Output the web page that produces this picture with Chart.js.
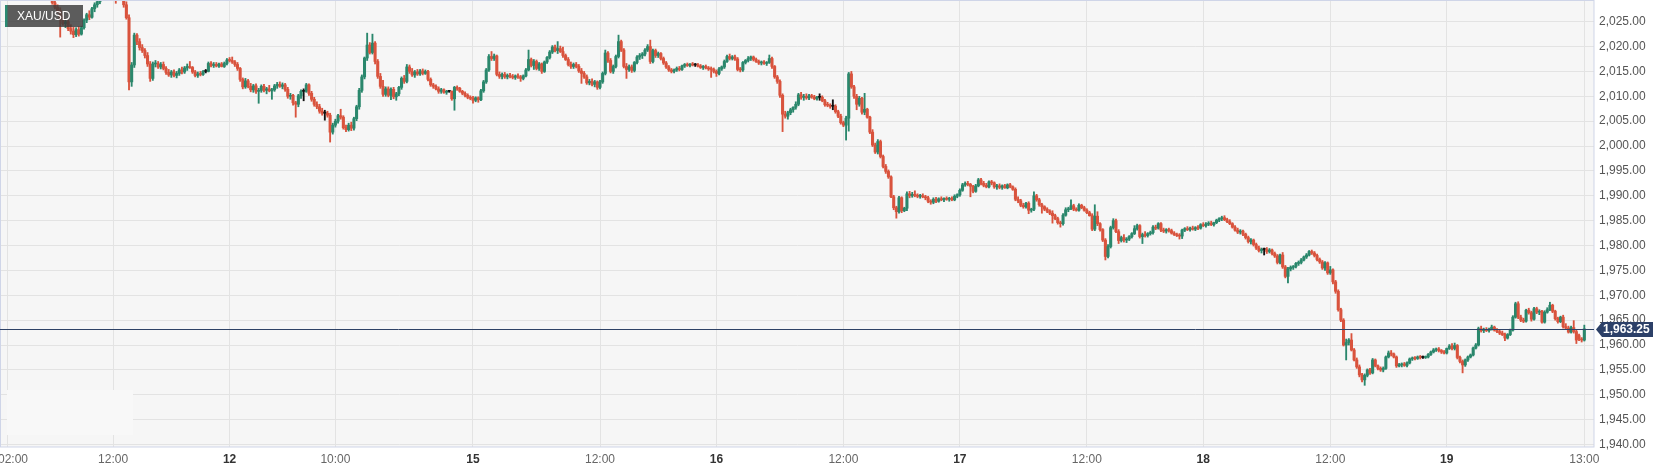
<!DOCTYPE html>
<html><head><meta charset="utf-8">
<script src="https://cdn.jsdelivr.net/npm/chart.js@4.4.1/dist/chart.umd.min.js"></script>
<style>html,body{margin:0;padding:0;background:#fff;overflow:hidden}#wrap{width:1665px;height:473px;position:relative}</style>
</head><body><div id="wrap"><canvas id="c" width="1665" height="473"></canvas></div>
<script>
// ---- data (15-minute candles; bar number counted from 02:00 on the 11th, trading time only) ----
const symbol = 'XAU/USD';
const firstIndex = 16;
const opens = [
2031.5,2030.5,2028.8,2027.9,2027.2,2025.6,2024.6,2025.0,2023.6,2023.1,
2022.4,2023.4,2022.5,2023.8,2025.3,2026.4,2025.9,2027.6,2028.4,2029.0,
2030.2,2031.2,2032.0,2031.5,2030.9,2030.3,2029.5,2030.6,2030.2,2028.4,
2025.8,2012.9,2016.3,2022.3,2021.0,2019.8,2019.2,2018.2,2016.5,2013.6,
2016.5,2016.6,2015.9,2016.4,2015.6,2014.8,2014.3,2014.9,2014.2,2014.6,
2015.3,2014.9,2015.7,2016.0,2015.8,2014.9,2014.2,2014.5,2014.4,2015.0,
2015.0,2016.6,2016.2,2016.4,2016.1,2016.5,2016.0,2016.6,2017.3,2017.2,
2016.9,2016.4,2015.6,2013.4,2011.9,2013.1,2012.0,2011.3,2012.1,2011.0,
2011.2,2012.0,2011.2,2011.5,2011.1,2011.3,2012.1,2012.4,2012.0,2012.3,
2011.4,2010.0,2010.2,2008.7,2008.4,2010.1,2011.0,2011.0,2012.3,2010.6,
2009.4,2008.4,2007.9,2007.0,2006.6,2006.6,2006.2,2002.8,2004.2,2005.0,
2006.1,2005.8,2003.7,2003.3,2004.2,2003.6,2005.5,2007.9,2011.2,2013.9,
2017.7,2020.3,2018.8,2020.7,2017.0,2014.0,2012.0,2010.4,2011.5,2010.2,
2011.4,2009.9,2010.5,2011.8,2013.6,2013.0,2015.9,2015.0,2014.3,2014.9,
2014.5,2015.1,2014.6,2015.0,2013.4,2012.3,2012.0,2011.5,2011.0,2011.3,
2010.8,2011.0,2011.0,2009.5,2011.8,2011.6,2011.0,2010.6,2010.2,2009.8,
2009.6,2009.2,2009.7,2009.3,2011.1,2012.9,2015.3,2018.0,2017.6,2018.1,
2014.4,2014.0,2014.4,2013.9,2014.2,2014.0,2013.8,2014.1,2013.9,2013.6,
2014.1,2015.3,2017.4,2016.2,2017.0,2015.6,2016.5,2015.0,2016.9,2017.8,
2018.9,2019.9,2019.2,2019.6,2019.0,2018.2,2017.4,2016.4,2016.0,2016.4,
2016.0,2015.1,2014.6,2013.9,2012.7,2013.0,2012.4,2012.9,2011.8,2012.9,
2014.6,2018.7,2017.2,2015.0,2016.0,2018.0,2021.0,2019.3,2016.0,2015.4,
2015.9,2015.2,2016.8,2017.9,2018.2,2018.5,2019.3,2020.0,2017.0,2019.2,
2018.2,2018.6,2017.6,2016.7,2015.9,2015.3,2015.0,2015.3,2015.6,2015.4,
2016.1,2016.4,2016.2,2016.5,2016.3,2016.3,2016.1,2015.8,2016.0,2015.7,
2015.5,2015.4,2015.0,2014.6,2015.5,2015.9,2017.0,2018.0,2017.6,2017.9,
2017.5,2015.4,2015.3,2016.8,2017.2,2017.6,2017.9,2017.4,2017.0,2016.7,
2016.9,2016.6,2016.8,2017.6,2016.0,2013.9,2013.0,2010.2,2006.4,2006.0,
2006.7,2007.3,2007.8,2008.4,2010.3,2009.8,2010.0,2009.7,2010.1,2009.9,
2009.5,2009.8,2009.8,2009.1,2008.3,2008.2,2008.0,2008.0,2006.9,2006.0,
2004.7,2004.2,2005.6,2014.5,2011.9,2010.0,2008.4,2009.6,2006.8,2007.4,
2005.8,2002.8,2000.2,1998.8,2000.9,1997.9,1995.9,1994.9,1993.8,1989.8,
1987.6,1986.8,1989.6,1987.0,1987.5,1990.4,1990.0,1990.3,1990.1,1989.9,
1990.0,1989.8,1989.6,1988.9,1988.7,1989.3,1988.9,1989.4,1989.2,1989.5,
1989.3,1989.5,1989.2,1989.9,1990.2,1991.1,1992.2,1992.5,1992.3,1991.9,
1990.9,1992.0,1993.2,1992.5,1992.1,1991.8,1992.8,1992.6,1991.8,1992.0,
1991.7,1992.0,1991.6,1992.2,1991.8,1991.3,1989.3,1989.0,1988.1,1987.8,
1988.5,1987.1,1987.3,1990.0,1989.2,1988.2,1987.8,1987.3,1986.9,1986.5,
1986.0,1985.4,1984.6,1984.4,1986.1,1987.2,1987.4,1988.0,1987.3,1987.1,
1988.1,1987.6,1987.1,1986.6,1986.0,1983.3,1985.9,1984.4,1983.2,1981.1,
1977.8,1979.8,1983.6,1985.0,1982.8,1981.0,1981.6,1981.1,1981.3,1981.8,
1982.4,1983.4,1984.0,1981.8,1982.2,1982.0,1982.4,1982.6,1983.7,1983.5,
1984.4,1983.1,1982.9,1983.2,1983.0,1982.5,1982.2,1982.0,1981.9,1983.1,
1983.4,1983.2,1983.5,1983.3,1983.6,1983.5,1984.2,1984.0,1984.3,1984.5,
1984.2,1984.6,1985.1,1985.4,1985.6,1985.2,1984.8,1984.4,1983.7,1983.1,
1982.7,1982.9,1982.3,1981.6,1980.8,1981.1,1980.2,1979.5,1979.0,1979.2,
1979.2,1978.8,1979.1,1978.4,1977.9,1976.6,1978.1,1975.7,1973.8,1975.3,
1975.6,1975.8,1976.4,1976.6,1977.1,1977.7,1978.1,1978.8,1978.5,1978.0,
1977.2,1976.7,1975.5,1976.5,1974.5,1975.1,1972.7,1970.8,1967.1,1965.0,
1960.0,1960.5,1961.0,1959.0,1957.0,1955.6,1954.0,1953.0,1953.9,1955.0,
1954.4,1957.0,1955.8,1955.3,1955.0,1955.3,1957.6,1958.4,1958.2,1957.6,
1955.8,1956.0,1956.2,1955.9,1956.4,1957.2,1957.4,1957.3,1957.6,1957.5,
1957.5,1957.6,1958.1,1958.6,1959.0,1959.2,1958.9,1958.6,1958.4,1959.3,
1959.8,1959.3,1959.9,1957.5,1956.7,1956.0,1957.0,1957.6,1958.0,1959.4,
1960.0,1963.3,1962.9,1963.1,1962.9,1963.2,1963.6,1963.0,1962.7,1962.4,
1962.1,1961.4,1962.1,1963.0,1965.6,1968.3,1965.6,1965.0,1964.8,1967.0,
1966.5,1965.2,1967.3,1966.6,1966.8,1964.6,1966.6,1967.1,1968.0,1966.8,
1965.3,1964.7,1965.6,1963.7,1963.4,1962.6,1963.5,1962.7,1961.9,1961.2,
1961.0];
const highs = [
2032.0,2031.0,2029.5,2028.4,2027.8,2026.2,2025.4,2025.3,2024.4,2023.9,
2023.8,2024.0,2024.1,2025.6,2026.7,2027.2,2027.9,2028.8,2029.5,2030.6,
2031.8,2032.6,2033.0,2032.4,2031.6,2030.8,2031.0,2031.5,2030.9,2029.0,
2026.4,2016.8,2022.7,2022.6,2021.6,2020.4,2019.6,2018.8,2017.0,2016.9,
2017.2,2017.0,2016.8,2016.9,2016.0,2015.4,2015.2,2015.3,2015.0,2015.6,
2015.9,2016.0,2016.5,2017.0,2016.0,2015.2,2014.9,2015.0,2015.2,2015.4,
2016.9,2017.0,2016.8,2016.8,2016.7,2016.8,2016.9,2017.6,2017.8,2017.9,
2017.2,2016.8,2015.8,2013.7,2013.6,2013.4,2012.6,2012.4,2012.5,2011.6,
2012.3,2012.4,2011.8,2012.2,2011.6,2012.4,2012.8,2012.9,2012.7,2012.6,
2011.8,2010.6,2010.4,2009.0,2010.4,2011.3,2011.5,2012.6,2012.5,2011.0,
2009.8,2008.9,2008.4,2007.6,2007.2,2007.0,2006.6,2004.6,2005.4,2006.4,
2007.4,2006.1,2004.2,2004.6,2004.8,2005.8,2008.2,2011.6,2014.3,2017.9,
2022.7,2020.8,2022.5,2021.0,2017.4,2014.6,2013.2,2011.9,2011.9,2011.7,
2011.8,2010.8,2012.0,2013.9,2014.2,2016.4,2016.3,2015.6,2015.2,2015.4,
2015.4,2015.5,2015.3,2015.2,2013.7,2012.6,2012.3,2011.9,2011.6,2011.5,
2011.2,2011.2,2011.1,2012.0,2012.1,2011.8,2011.2,2010.9,2010.5,2010.1,
2010.0,2009.9,2009.9,2011.4,2013.2,2015.6,2018.4,2019.0,2018.5,2018.3,
2014.9,2014.7,2014.8,2014.5,2014.6,2014.4,2014.3,2014.5,2014.2,2014.3,
2015.6,2019.3,2017.7,2017.4,2017.3,2016.8,2016.7,2017.1,2018.0,2019.2,
2020.2,2020.3,2021.0,2020.1,2019.9,2018.5,2017.8,2016.9,2016.7,2016.8,
2016.4,2015.6,2015.0,2014.3,2013.4,2013.5,2013.2,2013.1,2013.2,2014.9,
2019.3,2019.0,2017.6,2016.3,2018.3,2022.3,2021.3,2019.6,2016.6,2016.3,
2016.3,2017.0,2018.2,2018.6,2018.8,2019.6,2020.4,2021.3,2019.5,2019.5,
2018.9,2018.8,2017.9,2017.0,2016.2,2015.6,2015.5,2015.9,2016.0,2016.3,
2016.6,2016.7,2016.6,2016.8,2016.6,2016.6,2016.4,2016.2,2016.3,2016.0,
2015.9,2015.7,2015.3,2015.8,2016.1,2017.3,2018.3,2018.5,2018.2,2018.3,
2017.8,2015.8,2017.0,2017.4,2018.0,2018.1,2018.1,2017.7,2017.3,2017.1,
2017.2,2017.0,2018.3,2017.9,2016.2,2014.2,2013.3,2010.5,2007.0,2007.0,
2007.6,2007.9,2008.9,2010.6,2010.8,2010.4,2010.5,2010.4,2010.4,2010.2,
2010.0,2010.5,2010.1,2009.4,2008.8,2008.5,2009.3,2008.3,2007.2,2006.4,
2005.0,2006.0,2014.8,2015.0,2012.2,2010.4,2010.0,2009.8,2010.6,2007.6,
2006.0,2003.3,2000.6,2001.3,2001.2,1998.2,1996.3,1995.2,1994.0,1990.1,
1987.9,1989.9,1989.8,1987.7,1990.8,1990.9,1990.7,1991.0,1990.4,1990.3,
1990.4,1990.1,1989.9,1989.2,1989.6,1989.7,1989.6,1989.8,1989.6,1989.8,
1989.7,1989.8,1990.2,1990.4,1991.4,1992.5,1992.8,1992.9,1992.5,1992.1,
1992.3,1993.5,1993.5,1992.9,1992.5,1993.0,1993.1,1992.8,1992.3,1992.4,
1992.2,1992.3,1992.4,1992.5,1992.0,1991.6,1989.8,1989.3,1988.5,1988.7,
1988.8,1987.5,1990.8,1990.3,1989.5,1988.5,1988.0,1987.6,1987.2,1987.0,
1986.3,1985.7,1984.9,1986.4,1987.6,1987.7,1989.2,1988.3,1987.6,1988.4,
1988.3,1987.9,1987.4,1986.9,1986.4,1988.2,1986.8,1984.6,1983.4,1981.4,
1980.2,1983.9,1985.4,1985.3,1983.2,1981.9,1982.2,1981.6,1982.0,1982.6,
1984.0,1984.3,1984.2,1982.5,1982.8,1982.6,1982.9,1984.0,1984.1,1984.6,
1984.6,1983.5,1983.4,1983.5,1983.3,1982.8,1982.5,1982.4,1983.3,1983.6,
1983.8,1983.7,1983.9,1983.8,1984.0,1984.4,1984.6,1984.6,1984.8,1984.9,
1984.7,1985.3,1985.6,1985.9,1986.0,1985.5,1985.2,1984.6,1984.0,1983.5,
1983.2,1983.1,1982.5,1981.9,1981.4,1981.3,1980.5,1979.9,1979.5,1979.5,
1979.6,1979.4,1979.3,1978.7,1978.2,1978.3,1978.6,1976.0,1975.6,1975.9,
1976.0,1976.6,1976.9,1977.4,1977.9,1978.4,1979.0,1979.1,1978.8,1978.3,
1977.5,1977.0,1976.8,1976.7,1975.8,1975.3,1973.0,1971.1,1967.4,1965.3,
1961.2,1961.3,1962.3,1959.3,1957.4,1956.0,1954.3,1954.2,1955.2,1955.3,
1957.3,1957.2,1956.0,1955.6,1955.6,1957.8,1958.8,1958.9,1958.4,1957.8,
1956.3,1956.4,1956.5,1956.6,1957.4,1957.6,1957.7,1957.8,1957.9,1957.8,
1957.8,1958.3,1958.8,1959.3,1959.4,1959.5,1959.1,1958.9,1959.4,1960.1,
1960.3,1960.4,1960.1,1957.8,1957.0,1957.2,1957.8,1958.2,1959.6,1960.3,
1963.6,1963.8,1963.4,1963.5,1963.4,1964.0,1963.8,1963.3,1963.0,1962.8,
1962.4,1962.3,1963.2,1965.9,1968.6,1968.7,1966.0,1965.4,1967.2,1967.4,
1966.8,1967.6,1967.6,1967.1,1967.0,1966.9,1967.5,1968.6,1968.2,1967.0,
1965.6,1965.8,1966.0,1964.3,1963.8,1963.8,1964.9,1963.0,1962.2,1961.5,
1964.0];
const lows = [
2030.2,2028.5,2027.6,2026.8,2021.9,2024.3,2023.8,2023.2,2022.5,2021.8,
2022.0,2022.1,2022.3,2023.5,2024.8,2025.4,2025.7,2027.0,2027.9,2028.6,
2029.8,2030.6,2031.0,2030.3,2029.8,2028.7,2029.3,2029.8,2027.9,2025.5,
2011.3,2012.0,2015.8,2020.4,2019.3,2018.8,2017.7,2016.0,2013.0,2013.2,
2015.9,2015.6,2015.5,2015.3,2014.4,2014.0,2013.8,2013.9,2013.7,2014.2,
2014.5,2014.6,2015.2,2015.6,2014.6,2013.9,2013.8,2014.1,2014.2,2014.7,
2014.9,2015.9,2015.8,2015.9,2015.8,2015.9,2015.8,2016.3,2016.9,2016.6,
2016.0,2015.2,2013.0,2011.5,2011.6,2011.7,2010.9,2010.8,2010.6,2008.6,
2010.8,2010.9,2010.5,2010.9,2009.4,2011.0,2011.6,2011.8,2011.5,2011.0,
2009.6,2009.4,2008.2,2005.8,2007.9,2009.6,2009.1,2010.8,2010.2,2009.0,
2008.0,2007.5,2006.6,2006.2,2005.2,2005.8,2000.8,2002.4,2003.8,2004.6,
2005.4,2003.4,2002.9,2003.0,2003.1,2003.2,2005.1,2007.4,2010.8,2013.5,
2017.2,2018.5,2018.5,2016.5,2013.6,2011.6,2010.0,2010.0,2009.9,2009.3,
2009.5,2009.2,2010.1,2011.4,2012.6,2012.7,2014.6,2014.0,2013.8,2014.2,
2014.2,2014.3,2014.4,2013.1,2012.0,2011.6,2011.3,2010.6,2010.6,2010.6,
2010.4,2010.8,2009.2,2007.2,2011.2,2010.8,2010.3,2009.9,2009.5,2009.3,
2008.6,2008.9,2008.8,2009.1,2010.8,2012.6,2015.0,2017.2,2017.2,2014.1,
2013.6,2013.5,2013.6,2013.5,2013.7,2013.5,2013.4,2013.6,2013.0,2013.3,
2013.9,2015.1,2015.9,2015.4,2015.3,2015.2,2014.6,2014.8,2016.6,2017.5,
2018.6,2018.9,2018.6,2018.8,2017.8,2017.2,2016.1,2015.6,2015.6,2015.7,
2014.8,2012.6,2013.6,2012.4,2012.3,2012.1,2011.9,2011.4,2011.5,2012.6,
2014.3,2016.8,2014.7,2014.6,2015.7,2017.7,2019.0,2015.7,2013.6,2015.0,
2014.8,2014.9,2016.5,2017.4,2017.6,2018.1,2019.0,2016.6,2016.7,2017.8,
2017.8,2017.3,2016.4,2015.6,2015.0,2014.7,2014.7,2015.0,2015.1,2015.2,
2015.8,2016.0,2015.9,2016.1,2016.0,2015.9,2015.6,2015.4,2015.5,2015.2,
2013.8,2014.7,2014.0,2014.3,2015.2,2015.6,2016.8,2017.3,2017.3,2017.2,
2015.1,2014.9,2015.0,2016.5,2016.9,2017.2,2017.1,2016.8,2016.4,2016.3,
2016.4,2016.2,2016.6,2015.6,2013.6,2012.6,2009.8,2002.9,2005.6,2005.4,
2006.3,2006.8,2007.4,2008.1,2009.4,2009.2,2009.4,2009.3,2009.6,2009.3,
2009.2,2009.2,2008.9,2008.0,2007.9,2007.6,2007.3,2006.6,2005.7,2004.4,
2003.9,2001.2,2003.0,2011.6,2009.6,2007.3,2008.0,2006.4,2006.3,2005.6,
2002.5,1999.9,1998.5,1998.4,1997.6,1995.6,1994.5,1993.5,1989.6,1987.2,
1985.5,1986.5,1986.6,1986.8,1987.0,1989.6,1989.7,1989.8,1989.6,1989.5,
1989.6,1989.2,1988.6,1988.3,1988.4,1988.6,1988.7,1989.0,1988.8,1989.1,
1988.9,1989.0,1989.0,1989.6,1989.9,1990.9,1991.9,1992.0,1989.8,1990.6,
1990.7,1991.8,1992.2,1991.8,1991.6,1991.6,1992.2,1991.5,1991.3,1991.4,
1991.3,1991.5,1991.4,1991.6,1991.1,1989.0,1988.6,1987.8,1987.5,1987.5,
1986.4,1986.7,1987.0,1988.9,1987.9,1986.5,1987.0,1986.6,1986.2,1984.5,
1985.2,1984.3,1983.7,1984.1,1985.9,1986.8,1987.2,1987.0,1986.9,1986.9,
1987.4,1986.9,1986.4,1985.9,1983.0,1983.0,1984.0,1982.9,1980.8,1977.1,
1977.5,1979.5,1983.3,1982.6,1980.4,1980.7,1980.7,1980.6,1981.0,1981.5,
1982.2,1983.1,1981.5,1980.4,1981.7,1981.7,1982.1,1982.3,1983.2,1983.3,
1982.8,1982.6,1982.5,1982.7,1982.3,1982.0,1981.8,1981.3,1981.4,1982.8,
1983.0,1982.9,1983.1,1983.0,1983.2,1983.3,1983.8,1983.7,1984.0,1984.0,
1983.9,1984.4,1984.8,1985.0,1985.0,1984.6,1984.2,1983.5,1982.9,1982.4,
1982.3,1982.0,1981.3,1980.5,1980.3,1979.9,1979.2,1978.7,1978.5,1978.1,
1978.4,1978.5,1978.1,1977.6,1976.3,1976.3,1975.4,1973.5,1972.5,1974.9,
1975.2,1975.5,1976.0,1976.3,1976.9,1977.4,1977.9,1978.2,1977.7,1976.9,
1976.4,1975.2,1975.0,1974.2,1974.2,1972.3,1970.4,1966.8,1964.7,1959.8,
1957.0,1960.0,1958.8,1956.8,1955.3,1953.6,1952.6,1951.9,1953.6,1954.1,
1954.2,1955.6,1955.0,1954.7,1954.6,1955.1,1957.4,1957.8,1957.4,1955.5,
1955.6,1955.6,1955.7,1955.6,1956.2,1956.9,1957.0,1957.1,1957.2,1957.3,
1957.3,1957.4,1957.9,1958.4,1958.7,1958.6,1958.3,1958.2,1958.2,1959.1,
1959.0,1959.0,1957.2,1956.4,1954.4,1955.7,1956.7,1957.4,1957.8,1959.2,
1959.8,1962.6,1962.5,1962.7,1962.6,1963.0,1962.8,1962.5,1962.1,1961.9,
1960.9,1961.2,1961.9,1962.8,1965.4,1965.3,1964.7,1964.5,1964.6,1966.2,
1964.8,1965.0,1966.3,1966.1,1964.4,1964.4,1966.4,1966.9,1966.5,1965.0,
1964.4,1964.5,1963.4,1963.1,1962.4,1962.4,1962.4,1960.3,1960.9,1960.6,
1960.8];
const closes = [
2030.5,2028.8,2027.9,2027.2,2025.6,2024.6,2025.0,2023.6,2023.1,2022.4,
2023.4,2022.5,2023.8,2025.3,2026.4,2025.9,2027.6,2028.4,2029.0,2030.2,
2031.2,2032.0,2031.5,2030.9,2030.3,2029.5,2030.6,2030.2,2028.4,2025.8,
2012.9,2016.3,2022.3,2021.0,2019.8,2019.2,2018.2,2016.5,2013.6,2016.5,
2016.6,2015.9,2016.4,2015.6,2014.8,2014.3,2014.9,2014.2,2014.6,2015.3,
2014.9,2015.7,2016.0,2015.8,2014.9,2014.2,2014.5,2014.4,2015.0,2015.0,
2016.6,2016.2,2016.4,2016.1,2016.5,2016.0,2016.6,2017.3,2017.2,2016.9,
2016.4,2015.6,2013.4,2011.9,2013.1,2012.0,2011.3,2012.1,2011.0,2011.2,
2012.0,2011.2,2011.5,2011.1,2011.3,2012.1,2012.4,2012.0,2012.3,2011.4,
2010.0,2010.2,2008.7,2008.4,2010.1,2011.0,2011.0,2012.3,2010.6,2009.4,
2008.4,2007.9,2007.0,2006.6,2006.6,2006.2,2002.8,2004.2,2005.0,2006.1,
2005.8,2003.7,2003.3,2004.2,2003.6,2005.5,2007.9,2011.2,2013.9,2017.7,
2020.3,2018.8,2020.7,2017.0,2014.0,2012.0,2010.4,2011.5,2010.2,2011.4,
2009.9,2010.5,2011.8,2013.6,2013.0,2015.9,2015.0,2014.3,2014.9,2014.5,
2015.1,2014.6,2015.0,2013.4,2012.3,2012.0,2011.5,2011.0,2011.3,2010.8,
2011.0,2011.0,2009.5,2011.8,2011.6,2011.0,2010.6,2010.2,2009.8,2009.6,
2009.2,2009.7,2009.3,2011.1,2012.9,2015.3,2018.0,2017.6,2018.1,2014.4,
2014.0,2014.4,2013.9,2014.2,2014.0,2013.8,2014.1,2013.9,2013.6,2014.1,
2015.3,2017.4,2016.2,2017.0,2015.6,2016.5,2015.0,2016.9,2017.8,2018.9,
2019.9,2019.2,2019.6,2019.0,2018.2,2017.4,2016.4,2016.0,2016.4,2016.0,
2015.1,2014.6,2013.9,2012.7,2013.0,2012.4,2012.9,2011.8,2012.9,2014.6,
2018.7,2017.2,2015.0,2016.0,2018.0,2021.0,2019.3,2016.0,2015.4,2015.9,
2015.2,2016.8,2017.9,2018.2,2018.5,2019.3,2020.0,2017.0,2019.2,2018.2,
2018.6,2017.6,2016.7,2015.9,2015.3,2015.0,2015.3,2015.6,2015.4,2016.1,
2016.4,2016.2,2016.5,2016.3,2016.3,2016.1,2015.8,2016.0,2015.7,2015.5,
2015.4,2015.0,2014.6,2015.5,2015.9,2017.0,2018.0,2017.6,2017.9,2017.5,
2015.4,2015.3,2016.8,2017.2,2017.6,2017.9,2017.4,2017.0,2016.7,2016.9,
2016.6,2016.8,2017.6,2016.0,2013.9,2013.0,2010.2,2006.4,2006.0,2006.7,
2007.3,2007.8,2008.4,2010.3,2009.8,2010.0,2009.7,2010.1,2009.9,2009.5,
2009.8,2009.8,2009.1,2008.3,2008.2,2008.0,2008.0,2006.9,2006.0,2004.7,
2004.2,2005.6,2014.5,2011.9,2010.0,2008.4,2009.6,2006.8,2007.4,2005.8,
2002.8,2000.2,1998.8,2000.9,1997.9,1995.9,1994.9,1993.8,1989.8,1987.6,
1986.8,1989.6,1987.0,1987.5,1990.4,1990.0,1990.3,1990.1,1989.9,1990.0,
1989.8,1989.6,1988.9,1988.7,1989.3,1988.9,1989.4,1989.2,1989.5,1989.3,
1989.5,1989.2,1989.9,1990.2,1991.1,1992.2,1992.5,1992.3,1991.9,1990.9,
1992.0,1993.2,1992.5,1992.1,1991.8,1992.8,1992.6,1991.8,1992.0,1991.7,
1992.0,1991.6,1992.2,1991.8,1991.3,1989.3,1989.0,1988.1,1987.8,1988.5,
1987.1,1987.3,1990.0,1989.2,1988.2,1987.8,1987.3,1986.9,1986.5,1986.0,
1985.4,1984.6,1984.4,1986.1,1987.2,1987.4,1988.0,1987.3,1987.1,1988.1,
1987.6,1987.1,1986.6,1986.0,1983.3,1985.9,1984.4,1983.2,1981.1,1977.8,
1979.8,1983.6,1985.0,1982.8,1981.0,1981.6,1981.1,1981.3,1981.8,1982.4,
1983.4,1984.0,1981.8,1982.2,1982.0,1982.4,1982.6,1983.7,1983.5,1984.4,
1983.1,1982.9,1983.2,1983.0,1982.5,1982.2,1982.0,1981.9,1983.1,1983.4,
1983.2,1983.5,1983.3,1983.6,1983.5,1984.2,1984.0,1984.3,1984.5,1984.2,
1984.6,1985.1,1985.4,1985.6,1985.2,1984.8,1984.4,1983.7,1983.1,1982.7,
1982.9,1982.3,1981.6,1980.8,1981.1,1980.2,1979.5,1979.0,1979.2,1979.2,
1978.8,1979.1,1978.4,1977.9,1976.6,1978.1,1975.7,1973.8,1975.3,1975.6,
1975.8,1976.4,1976.6,1977.1,1977.7,1978.1,1978.8,1978.5,1978.0,1977.2,
1976.7,1975.5,1976.5,1974.5,1975.1,1972.7,1970.8,1967.1,1965.0,1960.0,
1960.5,1961.0,1959.0,1957.0,1955.6,1954.0,1953.0,1953.9,1955.0,1954.4,
1957.0,1955.8,1955.3,1955.0,1955.3,1957.6,1958.4,1958.2,1957.6,1955.8,
1956.0,1956.2,1955.9,1956.4,1957.2,1957.4,1957.3,1957.6,1957.5,1957.5,
1957.6,1958.1,1958.6,1959.0,1959.2,1958.9,1958.6,1958.4,1959.3,1959.8,
1959.3,1959.9,1957.5,1956.7,1956.0,1957.0,1957.6,1958.0,1959.4,1960.0,
1963.3,1962.9,1963.1,1962.9,1963.2,1963.6,1963.0,1962.7,1962.4,1962.1,
1961.4,1962.1,1963.0,1965.6,1968.3,1965.6,1965.0,1964.8,1967.0,1966.5,
1965.2,1967.3,1966.6,1966.8,1964.6,1966.6,1967.1,1968.0,1966.8,1965.3,
1964.7,1965.6,1963.7,1963.4,1962.6,1963.5,1962.7,1961.0,1961.2,1961.0,
1963.25];
const xTickIndex = [0, 40, 84, 124, 176, 224, 268, 316, 360, 408, 452, 500, 544, 596];
const xTickLabels = ['02:00','12:00','12','10:00','15','12:00','16','12:00','17','12:00','18','12:00','19','13:00'];
const xTickIsDay = [false,false,true,false,true,false,true,false,true,false,true,false,true,false];
const yTicks = [1940,1945,1950,1955,1960,1965,1970,1975,1980,1985,1990,1995,2000,2005,2010,2015,2020,2025];

if (!(opens.length === highs.length && highs.length === lows.length && lows.length === closes.length)) {
  throw new Error('array length mismatch ' + [opens.length, highs.length, lows.length, closes.length].join(','));
}

// ---- styling ----
const FONT = '"Liberation Sans", Arial, Helvetica, sans-serif';
const UP = '#2a876c', DOWN = '#d9533d', FLAT = '#111111';
const fmt = v => v.toLocaleString('en-US', {minimumFractionDigits: 2, maximumFractionDigits: 2});
const colorOf = i => closes[i] > opens[i] ? UP : (closes[i] < opens[i] ? DOWN : FLAT);
const colors = closes.map((c, i) => colorOf(i));

const wickData = lows.map((l, i) => ({x: firstIndex + i, y: [l, highs[i]]}));
const bodyData = opens.map((o, i) => ({x: firstIndex + i, y: [Math.min(o, closes[i]), Math.max(o, closes[i])]}));

const decorations = {
  id: 'decorations',
  beforeDraw(chart) {
    const {ctx, chartArea: a} = chart;
    ctx.save();
    ctx.fillStyle = '#ffffff';
    ctx.fillRect(0, 0, chart.width, chart.height);
    ctx.fillStyle = '#f6f6f6';
    ctx.fillRect(a.left, a.top, a.right - a.left, a.bottom - a.top);
    ctx.restore();
  },
  beforeDatasetsDraw(chart) {
    const {ctx} = chart;
    ctx.save();
    ctx.fillStyle = '#f8f8f8';
    ctx.fillRect(7, 390, 126, 45);
    ctx.restore();
  },
  afterDraw(chart) {
    const {ctx, chartArea: a, scales} = chart;
    ctx.save();
    ctx.strokeStyle = '#cfd5e8';
    ctx.lineWidth = 1;
    ctx.strokeRect(0.5, 0.5, a.right - 0.5, a.bottom - 0.5);
    const last = closes[closes.length - 1];
    const py = Math.round(scales.y.getPixelForValue(last)) + 0.5;
    ctx.strokeStyle = '#2e4266';
    ctx.beginPath(); ctx.moveTo(0, py); ctx.lineTo(a.right, py); ctx.stroke();
    ctx.fillStyle = '#2c4068';
    ctx.beginPath();
    ctx.moveTo(a.right + 2, py);
    ctx.lineTo(a.right + 8, py - 7.5);
    ctx.lineTo(a.right + 59, py - 7.5);
    ctx.lineTo(a.right + 59, py + 7.5);
    ctx.lineTo(a.right + 8, py + 7.5);
    ctx.closePath(); ctx.fill();
    ctx.fillStyle = '#ffffff';
    ctx.font = 'bold 12px ' + FONT;
    ctx.textAlign = 'left'; ctx.textBaseline = 'middle';
    ctx.fillText(fmt(last), a.right + 9, py + 0.5);
    ctx.fillStyle = 'rgba(60,60,60,0.83)';
    ctx.fillRect(5, 5, 78, 22);
    ctx.fillStyle = '#2a8a72';
    ctx.fillRect(5, 5, 2.5, 22);
    ctx.fillStyle = '#ffffff';
    ctx.font = '12px ' + FONT;
    ctx.textAlign = 'left'; ctx.textBaseline = 'middle';
    ctx.fillText(symbol, 17, 16.5);
    ctx.textBaseline = 'middle';
    ctx.textAlign = 'center';
    xTickIndex.forEach((v, i) => {
      const isDay = xTickIsDay[i];
      ctx.font = (isDay ? 'bold ' : '') + '12px ' + FONT;
      ctx.fillStyle = isDay ? '#333333' : '#666666';
      const w = ctx.measureText(xTickLabels[i]).width;
      let cx = scales.x.getPixelForValue(v);
      cx = Math.max(cx, w / 2 - 2);
      ctx.fillText(xTickLabels[i], cx, 460);
    });
    ctx.restore();
  }
};

new Chart(document.getElementById('c'), {
  type: 'bar',
  data: {
    datasets: [
      {label: 'body', data: bodyData, backgroundColor: colors, barThickness: 2.4, minBarLength: 1, grouped: false, borderWidth: 0, borderSkipped: false},
      {label: 'wick', data: wickData, backgroundColor: colors, barThickness: 1.2, minBarLength: 1, grouped: false, borderWidth: 0, borderSkipped: false}
    ]
  },
  options: {
    responsive: false, animation: false, devicePixelRatio: 1, events: [],
    layout: {padding: {left: 1, top: 1, right: 0, bottom: 0}},
    plugins: {legend: {display: false}, tooltip: {enabled: false}},
    scales: {
      x: {
        type: 'linear', min: -2.38, max: 599.66, offset: false,
        afterBuildTicks: s => { s.ticks = xTickIndex.map(v => ({value: v})); },
        afterFit: s => { s.height = 26; s.paddingLeft = 0; s.paddingRight = 0; },
        grid: {color: '#e3e3e3', lineWidth: 1, drawTicks: false, offset: false},
        border: {display: false},
        ticks: {display: false}
      },
      y: {
        type: 'linear', position: 'right', min: 1939.5, max: 2029.16,
        afterBuildTicks: s => { s.ticks = yTicks.map(v => ({value: v})); },
        afterFit: s => { s.width = 71; s.paddingTop = 0; s.paddingBottom = 0; },
        grid: {color: '#e3e3e3', lineWidth: 1, drawTicks: false},
        border: {display: false},
        ticks: {padding: 5, color: '#555555', font: {family: FONT, size: 12}, callback: v => fmt(v)}
      }
    }
  },
  plugins: [decorations]
});
</script>
</body></html>
